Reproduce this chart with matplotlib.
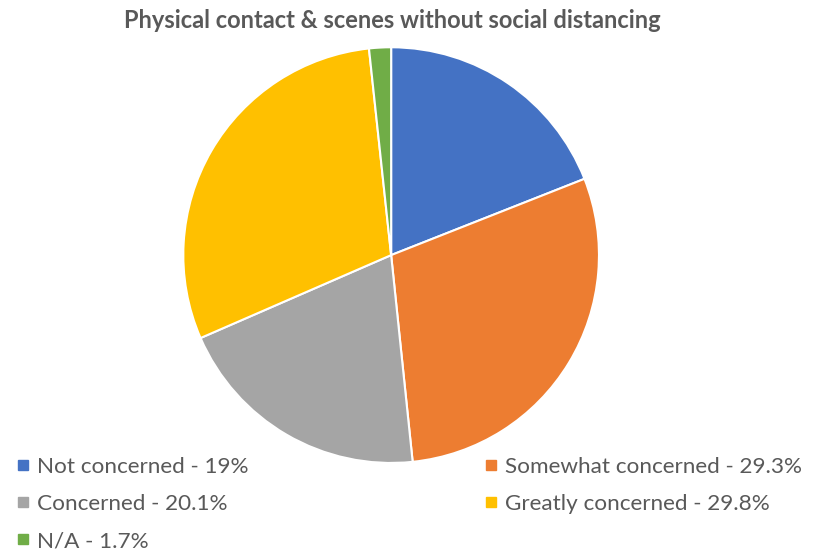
import matplotlib
matplotlib.use("Agg")
import matplotlib.pyplot as plt
from matplotlib.lines import Line2D

plt.rcParams['font.family'] = ['Lato', 'DejaVu Sans']

categories = ['Not concerned', 'Somewhat concerned', 'Concerned', 'Greatly concerned', 'N/A']
values = [19.0, 29.3, 20.1, 29.8, 1.7]
labels = ['Not concerned - 19%', 'Somewhat concerned - 29.3%', 'Concerned - 20.1%',
          'Greatly concerned - 29.8%', 'N/A - 1.7%']
colors = ['#4472C4', '#ED7D31', '#A5A5A5', '#FFC000', '#70AD47']
text_color = '#595959'

fig = plt.figure(figsize=(8.2, 5.57), dpi=100)
ax = fig.add_axes([0.222, 0.167, 0.51, 0.750])
ax.pie(values, colors=colors, startangle=90, counterclock=False,
       wedgeprops=dict(edgecolor='white', linewidth=1.5))
ax.set_xlim(-1.005, 1.005)
ax.set_ylim(-1.005, 1.005)
ax.set_aspect('equal')

fig.text(0.478, 0.964, 'Physical contact & scenes without social distancing',
         ha='center', va='center', fontsize=17, fontweight='bold', color=text_color)

# column-major order for the legend
order = [0, 2, 4, 1, 3]
handles = [Line2D([], [], marker='s', linestyle='none', markersize=6.5,
                  color=colors[i]) for i in order]
leg = fig.legend(handles, [labels[i] for i in order], ncol=2,
                 loc='upper left', bbox_to_anchor=(0.020, 1 - 457 / 557),
                 frameon=False, fontsize=16.2, handlelength=0.6, handletextpad=0.3,
                 columnspacing=10.5, labelspacing=0.76, borderpad=0, borderaxespad=0)
for t in leg.get_texts():
    t.set_color(text_color)

fig.savefig('out.png', dpi=100)
